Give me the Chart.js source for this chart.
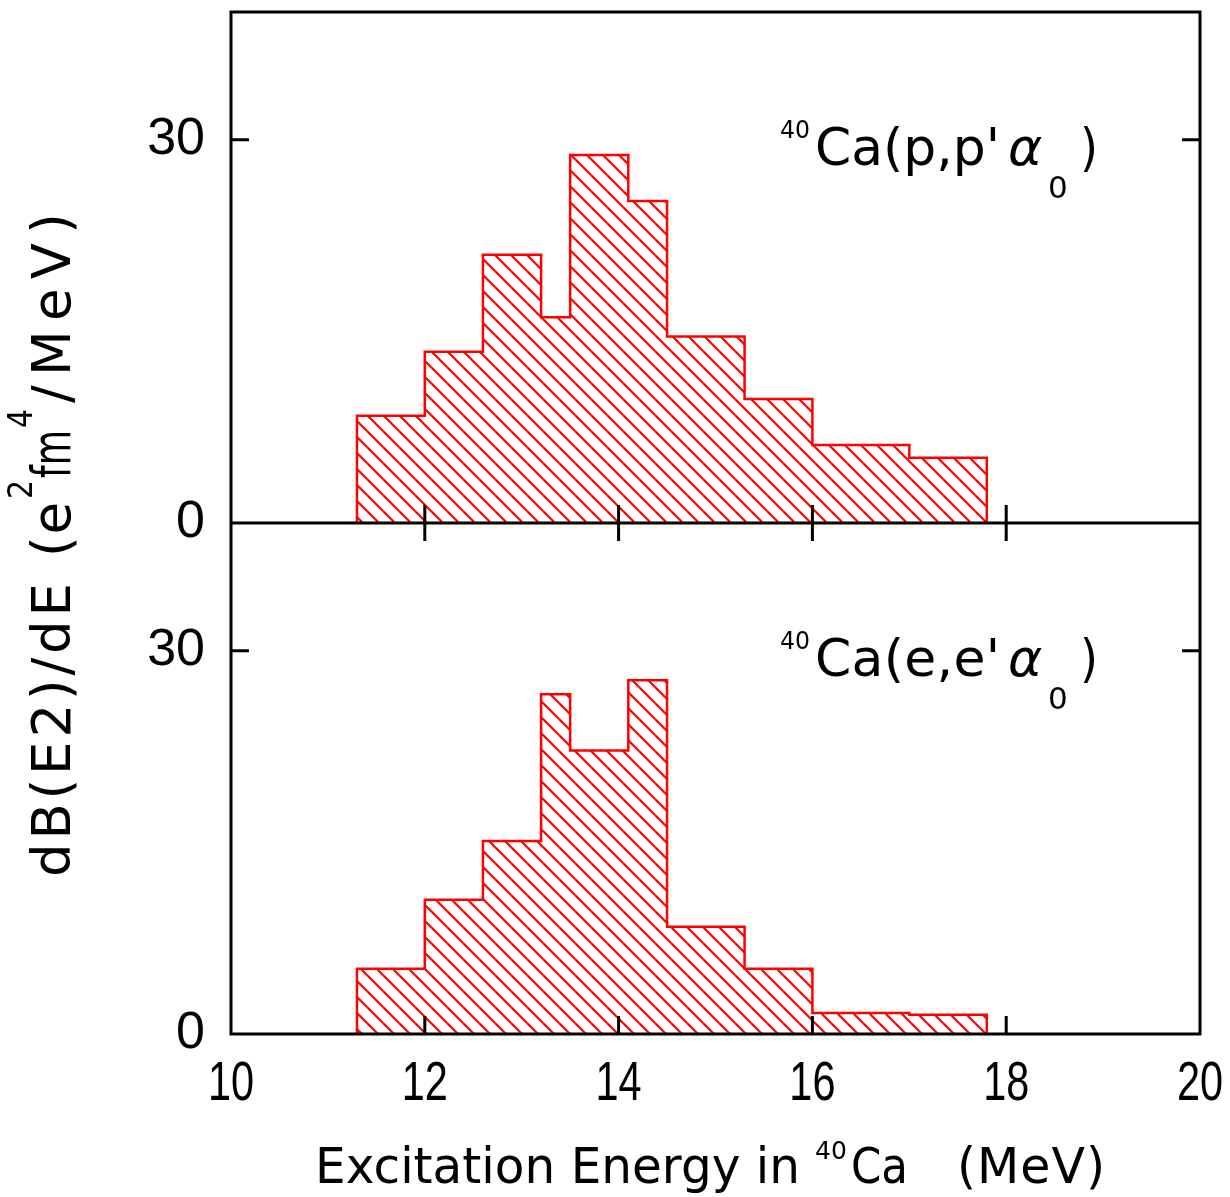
<!DOCTYPE html>
<html>
<head>
<meta charset="utf-8">
<script src="https://cdn.jsdelivr.net/npm/chart.js@4.4.1/dist/chart.umd.min.js"></script>
<style>
  html, body { margin: 0; padding: 0; background: #fff; }
  #wrap { width: 1230px; height: 1197px; position: relative; }
  canvas { display: block; }
</style>
</head>
<body>
<div id="wrap"><canvas id="c" width="1230" height="1197"></canvas></div>
<script>
// Bin edges in excitation energy (MeV), shared by both spectra
const binEdges = [11.3, 12.0, 12.6, 13.2, 13.5, 14.1, 14.5, 15.3, 16.0, 17.0, 17.8];
// dB(E2)/dE per bin (e^2 fm^4 / MeV) from 40Ca(p,p'alpha0)
const ppValues = [8.4, 13.4, 21.0, 16.1, 28.8, 25.2, 14.6, 9.7, 6.1, 5.1];
// dB(E2)/dE per bin (e^2 fm^4 / MeV) from 40Ca(e,e'alpha0)
const eeValues = [5.1, 10.5, 15.1, 26.6, 22.2, 27.7, 8.4, 5.1, 1.65, 1.5];
// Axis ranges and tick values
const xRange = [10, 20];
const yRange = [0, 40];
const xTickValues = [10, 12, 14, 16, 18, 20];
const yTickValues = [0, 30];

const RED = '#ff0000';
const INK = '#000000';
const TEXT_FONT = 'DejaVu Sans';
const NUM_FONT = 'Liberation Sans';

// Outline points of a histogram: step-before line through bin left edges
function histogramPoints(edges, values) {
  const pts = [{ x: edges[0], y: 0 }];
  values.forEach((v, i) => pts.push({ x: edges[i], y: v }));
  const last = edges.length - 1;
  pts.push({ x: edges[last], y: values[values.length - 1] });
  pts.push({ x: edges[last], y: 0 });
  return pts;
}

// Diagonal "\" hatching used as the bar fill
function makeHatch(color, gap, lineWidth) {
  const tile = document.createElement('canvas');
  tile.width = gap; tile.height = gap;
  const g = tile.getContext('2d');
  g.strokeStyle = color;
  g.lineWidth = lineWidth;
  for (const c of [-gap, 0, gap]) {
    g.beginPath();
    g.moveTo(-2, -2 + c);
    g.lineTo(gap + 2, gap + 2 + c);
    g.stroke();
  }
  return g.createPattern(tile, 'repeat');
}

// Draw text stretched/spaced so that it covers a given width
function fitText(ctx, text, x, y, width) {
  ctx.letterSpacing = '0px';
  const w0 = ctx.measureText(text).width;
  if (text.length < 2 || Math.abs(width - w0) < 0.5 || w0 > width) {
    const k = Math.min(1, width / w0);
    ctx.save();
    ctx.translate(x, y);
    ctx.scale(k, 1);
    ctx.fillText(text, 0, 0);
    ctx.restore();
  } else {
    ctx.letterSpacing = ((width - w0) / (text.length - 1)) + 'px';
    ctx.fillText(text, x, y);
    ctx.letterSpacing = '0px';
  }
}

// Each run: text, start offset, width, baseline shift, font
function drawRuns(ctx, runs, baseX, baseY) {
  runs.forEach(r => {
    ctx.font = r.font;
    fitText(ctx, r.text, baseX + r.s, baseY + (r.dy || 0), r.w);
  });
}

const hatch = makeHatch(RED, 16, 2.2);

function tickSetter(values) {
  return scale => { scale.ticks = values.map(v => ({ value: v })); };
}

function reactionLabel(inner) {
  return [
    { text: '40', s: 0, w: 30, dy: -27, font: `24px "${TEXT_FONT}"` },
    { text: 'Ca(' + inner, s: 35, w: 185, font: `52px "${TEXT_FONT}"` },
    { text: '\u03B1', s: 228, w: 37, font: `italic 52px "${TEXT_FONT}"` },
    { text: '0', s: 268, w: 22, dy: 33, font: `31px "${TEXT_FONT}"` },
    { text: ')', s: 300, w: 18, font: `52px "${TEXT_FONT}"` }
  ];
}

const panelLabels = {
  yTop: reactionLabel("p,p'"),
  yBot: reactionLabel("e,e'")
};

const frameAndLabels = {
  id: 'frameAndLabels',
  afterDatasetsDraw(chart) {
    const ctx = chart.ctx;
    const a = chart.chartArea;
    const xs = chart.scales.x;
    const panels = [chart.scales.yTop, chart.scales.yBot];
    const TL = 18;
    ctx.save();
    ctx.strokeStyle = INK;
    ctx.lineWidth = 3;
    ctx.lineCap = 'butt';
    // outer frame
    ctx.strokeRect(a.left, a.top, a.right - a.left, a.bottom - a.top);
    // zero line of the upper panel
    const mid = chart.scales.yTop.getPixelForValue(0);
    ctx.beginPath(); ctx.moveTo(a.left, mid); ctx.lineTo(a.right, mid); ctx.stroke();
    // x ticks on the panel boundary and on the bottom axis
    ctx.beginPath();
    xs.ticks.forEach(t => {
      const v = t.value;
      if (v === xRange[0] || v === xRange[1]) return;
      const px = xs.getPixelForValue(v);
      ctx.moveTo(px, mid - TL); ctx.lineTo(px, mid + TL);
      ctx.moveTo(px, a.bottom); ctx.lineTo(px, a.bottom - TL);
    });
    // y ticks on both sides of each panel
    panels.forEach(s => {
      s.ticks.forEach(t => {
        if (t.value === yRange[0]) return;
        const py = s.getPixelForValue(t.value);
        ctx.moveTo(a.left, py); ctx.lineTo(a.left + TL, py);
        ctx.moveTo(a.right, py); ctx.lineTo(a.right - TL, py);
      });
    });
    ctx.stroke();
    ctx.restore();
  },
  afterDraw(chart) {
    const ctx = chart.ctx;
    const a = chart.chartArea;
    const xs = chart.scales.x;
    ctx.save();
    ctx.fillStyle = INK;
    ctx.textBaseline = 'alphabetic';
    // x tick labels, narrow numerals
    ctx.font = `56px "${NUM_FONT}"`;
    ctx.textAlign = 'center';
    xs.ticks.forEach(t => {
      const px = xs.getPixelForValue(t.value);
      ctx.save();
      ctx.translate(px, a.bottom + 66);
      ctx.scale(0.74, 1);
      ctx.fillText(String(t.value), 0, 0);
      ctx.restore();
    });
    ctx.textAlign = 'left';
    // reaction labels inside each panel
    ['yTop', 'yBot'].forEach(id => {
      const s = chart.scales[id];
      drawRuns(ctx, panelLabels[id], 780, s.top + 153);
    });
    // x axis title
    drawRuns(ctx, [
      { text: 'Excitation Energy in', s: 0, w: 485, font: `49px "${TEXT_FONT}"` },
      { text: '40', s: 500, w: 32, dy: -24, font: `25px "${TEXT_FONT}"` },
      { text: 'Ca', s: 536, w: 57, font: `49px "${TEXT_FONT}"` },
      { text: '(MeV)', s: 642, w: 148, font: `49px "${TEXT_FONT}"` }
    ], 315, 1183);
    // y axis title, rotated
    ctx.translate(70, 877);
    ctx.rotate(-Math.PI / 2);
    drawRuns(ctx, [
      { text: 'dB(E2)/dE', s: 0, w: 294, font: `53px "${TEXT_FONT}"` },
      { text: '(e', s: 320, w: 55, font: `53px "${TEXT_FONT}"` },
      { text: '2', s: 378, w: 19, dy: -38, font: `33px "${TEXT_FONT}"` },
      { text: 'fm', s: 399, w: 48, font: `53px "${TEXT_FONT}"` },
      { text: '4', s: 449, w: 19, dy: -38, font: `33px "${TEXT_FONT}"` },
      { text: '/MeV)', s: 474, w: 190, font: `53px "${TEXT_FONT}"` }
    ], 0, 0);
    ctx.restore();
  }
};

const yScale = () => ({
  type: 'linear',
  position: 'left',
  stack: 'panels',
  stackWeight: 1,
  min: yRange[0],
  max: yRange[1],
  afterBuildTicks: tickSetter(yTickValues),
  afterFit: s => { s.width = 231; s.paddingTop = 0; s.paddingBottom = 0; },
  grid: { display: false, drawTicks: false },
  border: { display: false },
  ticks: {
    color: INK,
    padding: 26,
    font: { family: NUM_FONT, size: 52 }
  }
});

const datasetStyle = {
  stepped: true,
  fill: 'origin',
  backgroundColor: hatch,
  borderColor: RED,
  borderWidth: 2.5,
  pointRadius: 0,
  pointHoverRadius: 0,
  tension: 0
};

new Chart(document.getElementById('c'), {
  type: 'line',
  data: {
    datasets: [
      Object.assign({ label: "40Ca(p,p'\u03B10)", data: histogramPoints(binEdges, ppValues), yAxisID: 'yTop' }, datasetStyle),
      Object.assign({ label: "40Ca(e,e'\u03B10)", data: histogramPoints(binEdges, eeValues), yAxisID: 'yBot' }, datasetStyle)
    ]
  },
  options: {
    responsive: false,
    devicePixelRatio: 1,
    animation: false,
    events: [],
    layout: { padding: { top: 12, right: 30, left: 0, bottom: 0 } },
    plugins: { legend: { display: false }, tooltip: { enabled: false } },
    scales: {
      x: {
        type: 'linear',
        position: 'bottom',
        min: xRange[0],
        max: xRange[1],
        afterBuildTicks: tickSetter(xTickValues),
        afterFit: s => { s.height = 1197 - 1034; s.paddingLeft = 0; s.paddingRight = 0; },
        grid: { display: false, drawTicks: false },
        border: { display: false },
        ticks: { display: false }
      },
      // lower panel listed first so the stack places it at the bottom
      yBot: yScale(),
      yTop: yScale()
    }
  },
  plugins: [frameAndLabels]
});
</script>
</body>
</html>
